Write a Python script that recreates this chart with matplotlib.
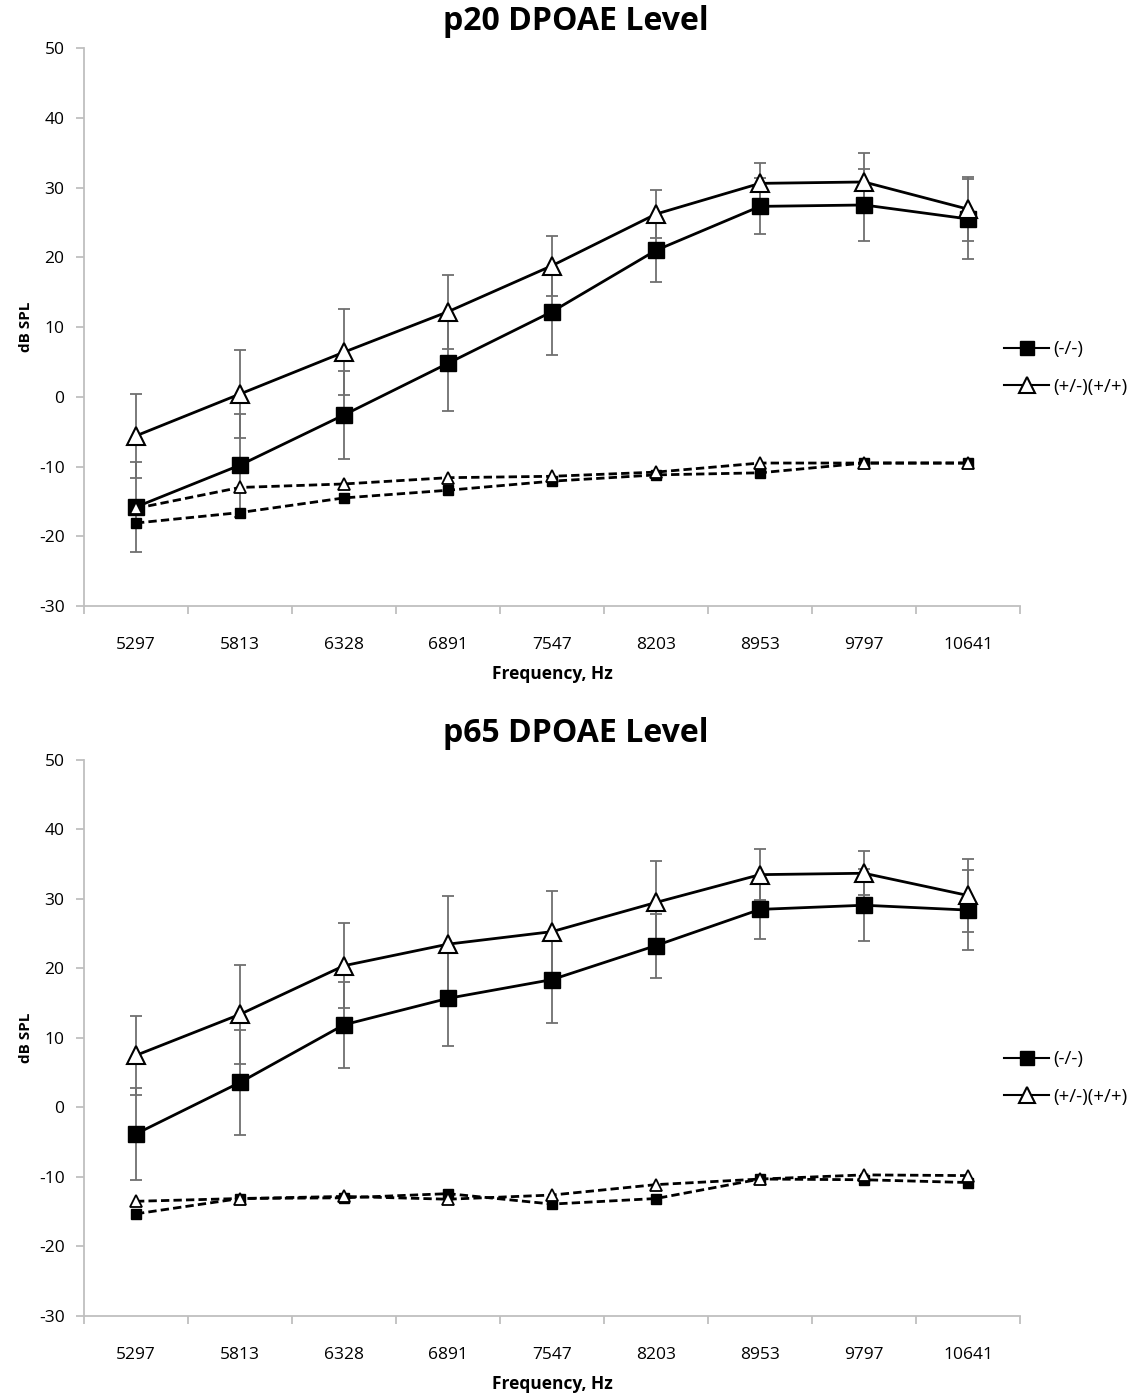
# coding=utf-8

import numpy as np
import matplotlib.pyplot as plt
from matplotlib.lines import Line2D

plt.rcParams['font.family'] = ['Open Sans', 'DejaVu Sans']
plt.rcParams['axes.unicode_minus'] = False

freqs = ['5297', '5813', '6328', '6891', '7547', '8203', '8953', '9797', '10641']

# p20 - DPOAE level, mean and SD
p20_ko = [-15.8, -9.8, -2.6, 4.8, 12.2, 21.0, 27.3, 27.5, 25.5]
p20_ko_sd = [6.5, 7.4, 6.3, 6.9, 6.2, 4.5, 4.0, 5.2, 5.7]
p20_wt = [-5.6, 0.4, 6.4, 12.2, 18.8, 26.2, 30.6, 30.8, 26.9]
p20_wt_sd = [6.0, 6.3, 6.2, 5.3, 4.3, 3.4, 2.9, 4.2, 4.6]
# p20 - noise floor
p20_ko_nf = [-18.1, -16.6, -14.5, -13.4, -12.1, -11.2, -10.9, -9.5, -9.5]
p20_wt_nf = [-16.0, -13.0, -12.5, -11.6, -11.4, -10.8, -9.5, -9.5, -9.5]

# p65 - DPOAE level, mean and SD
p65_ko = [-3.8, 3.6, 11.9, 15.7, 18.4, 23.3, 28.5, 29.1, 28.4]
p65_ko_sd = [6.6, 7.5, 6.2, 6.9, 6.3, 4.6, 4.2, 5.2, 5.8]
p65_wt = [7.5, 13.4, 20.4, 23.5, 25.3, 29.5, 33.5, 33.7, 30.5]
p65_wt_sd = [5.7, 7.1, 6.1, 6.9, 5.9, 5.9, 3.7, 3.2, 5.2]
# p65 - noise floor
p65_ko_nf = [-15.3, -13.1, -13.0, -12.4, -13.9, -13.1, -10.3, -10.4, -10.8]
p65_wt_nf = [-13.5, -13.1, -12.8, -13.2, -12.6, -11.1, -10.3, -9.7, -9.8]

GRAY = '#bfbfbf'


def drawPanel(ax, ko, ko_sd, wt, wt_sd, ko_nf, wt_nf):
    x = np.arange(len(freqs))

    # desvios
    ax.errorbar(x, ko, yerr=ko_sd, fmt='none', ecolor='#6f6f6f', elinewidth=1.3,
                capsize=4, capthick=1.3, zorder=1)
    ax.errorbar(x, wt, yerr=wt_sd, fmt='none', ecolor='#6f6f6f', elinewidth=1.3,
                capsize=4, capthick=1.3, zorder=1)

    ax.plot(x, ko, color='black', lw=2, marker='s', ms=12,
            mfc='black', mec='black', zorder=3)
    ax.plot(x, wt, color='black', lw=2, marker='^', ms=13,
            mfc='white', mec='black', mew=1.5, zorder=4)
    ax.plot(x, ko_nf, color='black', lw=2, ls=(0, (3, 1.5)), marker='s', ms=7,
            mfc='black', mec='black', zorder=5)
    ax.plot(x, wt_nf, color='black', lw=2, ls=(0, (3, 1.5)), marker='^', ms=8,
            mfc='white', mec='black', mew=1.3, zorder=6)

    ax.set_xlim(-0.5, len(freqs) - 0.5)
    ax.set_ylim(-30, 50)
    ax.set_yticks(range(-30, 51, 10))
    ax.set_xticks(x)
    ax.set_xticklabels(freqs)
    ax.set_xticks(np.arange(-0.5, len(freqs), 1.0), minor=True)

    for s in ['top', 'right']:
        ax.spines[s].set_visible(False)
    for s in ['left', 'bottom']:
        ax.spines[s].set_color(GRAY)
        ax.spines[s].set_linewidth(1.3)

    ax.tick_params(axis='x', which='major', length=0, pad=22, labelsize=12.5)
    ax.tick_params(axis='x', which='minor', length=6, color=GRAY, width=1.3)
    ax.tick_params(axis='y', length=6, color=GRAY, width=1.3, pad=8, labelsize=12.5)

    ax.set_xlabel('Frequency, Hz', fontsize=12.5, fontweight='bold', labelpad=9)
    ax.set_ylabel('dB SPL', fontsize=11, fontweight='bold', labelpad=4)


fig = plt.figure(figsize=(11.41, 13.97), dpi=100)
ax1 = fig.add_axes([0.0736, 0.5662, 0.8204, 0.3994])
ax2 = fig.add_axes([0.0736, 0.0580, 0.8204, 0.3980])

drawPanel(ax1, p20_ko, p20_ko_sd, p20_wt, p20_wt_sd, p20_ko_nf, p20_wt_nf)
drawPanel(ax2, p65_ko, p65_ko_sd, p65_wt, p65_wt_sd, p65_ko_nf, p65_wt_nf)

fig.text(0.505, 1 - 22 / 1397., 'p20 DPOAE Level', ha='center', va='center',
         fontsize=23, fontweight='bold')
fig.text(0.505, 1 - 733 / 1397., 'p65 DPOAE Level', ha='center', va='center',
         fontsize=23, fontweight='bold')

# legenda
handles = [
    Line2D([], [], color='black', lw=1.5, marker='s', ms=10, mfc='black', mec='black'),
    Line2D([], [], color='black', lw=1.5, marker='^', ms=11, mfc='white', mec='black', mew=1.5),
]
labels = ['(-/-)', '(+/-)(+/+)']
for yc in [368, 1078]:
    fig.legend(handles, labels, loc='center left',
               bbox_to_anchor=(995 / 1141., 1 - yc / 1397.),
               frameon=False, fontsize=13.5, handlelength=2.4, handletextpad=0.2,
               labelspacing=1.05, borderpad=0)

plt.savefig('out.png', dpi=100)
